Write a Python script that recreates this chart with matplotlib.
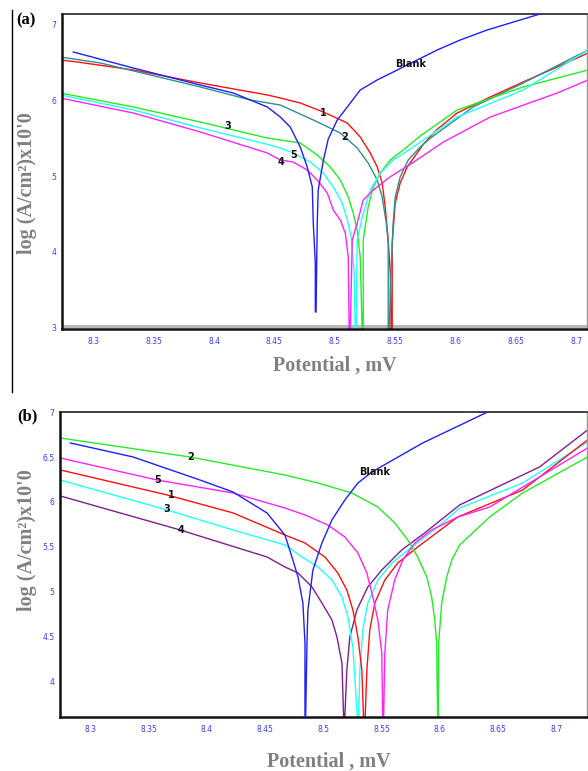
import matplotlib.pyplot as plt
from matplotlib.lines import Line2D

# ---- panel (a) ----
a_blank_x = [8.2834, 8.3331, 8.3886, 8.4159, 8.4441, 8.4549, 8.4631, 8.4714, 8.4772, 8.4814, 8.4822, 8.4839, 8.4839,
             8.4845, 8.4855, 8.4863, 8.4905, 8.4946, 8.5021, 8.5104, 8.5211, 8.5352, 8.5518, 8.5683, 8.5849,
             8.6039, 8.6263, 8.6536, 8.6702]
a_blank_y = [6.642, 6.430, 6.205, 6.099, 5.914, 5.781, 5.649, 5.384, 5.119, 4.854, 4.377, 3.848, 3.199,
             3.20, 4.377, 4.815, 5.20, 5.49, 5.742, 5.914, 6.139, 6.272, 6.404, 6.536, 6.669,
             6.801, 6.934, 7.066, 7.146]

a_1_x = [8.2727, 8.2867, 8.3331, 8.3886, 8.4441, 8.4549, 8.4714, 8.4905, 8.5104, 8.5211, 8.5294, 8.5352, 8.5393,
         8.5418, 8.5443, 8.5460, 8.5468,
         8.5476, 8.5476, 8.5501, 8.5542, 8.5600, 8.5683, 8.5733, 8.5850, 8.6014, 8.6288, 8.6561, 8.6843, 8.7099]
a_1_y = [6.536, 6.510, 6.404, 6.232, 6.073, 6.033, 5.967, 5.848, 5.702, 5.517, 5.305, 5.119, 4.907,
         4.589, 4.152, 3.715, 2.9,
         2.9, 4.113, 4.642, 4.907, 5.119, 5.305, 5.42, 5.62, 5.834, 6.046, 6.245, 6.444, 6.629]

a_2_x = [8.2727, 8.3058, 8.3472, 8.3886, 8.4300, 8.4549, 8.4822, 8.5046, 8.5186, 8.5277, 8.5352, 8.5393, 8.5427,
         8.5443, 8.5443,
         8.5452, 8.5460, 8.5484, 8.5501, 8.5542, 8.5609, 8.5708, 8.5791, 8.6147, 8.6561, 8.7099]
a_2_y = [6.576, 6.497, 6.338, 6.179, 6.007, 5.940, 5.742, 5.570, 5.371, 5.172, 4.947, 4.722, 4.377,
         4.113, 2.9,
         2.9, 3.490, 4.377, 4.722, 4.987, 5.212, 5.384, 5.50, 5.914, 6.232, 6.669]

a_3_x = [8.2727, 8.3331, 8.3886, 8.4441, 8.4549, 8.4714, 8.4855, 8.4963, 8.5046, 8.5112, 8.5153, 8.5186, 8.5211,
         8.5228,
         8.5236, 8.5236, 8.5277, 8.5319, 8.5377, 8.5460, 8.5567, 8.5708, 8.6014, 8.6561, 8.7099]
a_3_y = [6.099, 5.914, 5.715, 5.503, 5.477, 5.437, 5.278, 5.119, 4.947, 4.722, 4.510, 4.285, 3.927,
         2.9,
         2.9, 4.152, 4.589, 4.854, 5.040, 5.212, 5.344, 5.53, 5.874, 6.179, 6.404]

a_4_x = [8.2727, 8.3331, 8.3886, 8.4441, 8.4549, 8.4656, 8.4772, 8.4855, 8.4938, 8.4988, 8.5046, 8.5087, 8.5112,
         8.5120,
         8.5128, 8.5145, 8.5186, 8.5236, 8.5319, 8.5460, 8.5650, 8.5900, 8.6288, 8.6843, 8.7099]
a_4_y = [6.033, 5.834, 5.583, 5.305, 5.212, 5.185, 5.079, 4.947, 4.775, 4.550, 4.417, 4.245, 3.927,
         2.9,
         2.9, 4.152, 4.377, 4.682, 4.815, 4.99, 5.18, 5.45, 5.781, 6.099, 6.272]

a_5_x = [8.2727, 8.3331, 8.3886, 8.4441, 8.4549, 8.4656, 8.4797, 8.4905, 8.4988, 8.5062, 8.5104, 8.5137, 8.5161,
         8.5170,
         8.5178, 8.5186, 8.5228, 8.5294, 8.5377, 8.5484, 8.5650, 8.6014, 8.6561, 8.7099]
a_5_y = [6.073, 5.874, 5.636, 5.42, 5.371, 5.305, 5.185, 5.040, 4.854, 4.642, 4.417, 4.192, 3.715,
         2.9,
         2.9, 4.152, 4.457, 4.815, 5.040, 5.212, 5.384, 5.781, 6.139, 6.669]

# ---- panel (b) ----
b_blank_x = [8.2829, 8.3368, 8.3942, 8.4225, 8.4516, 8.4670, 8.4730, 8.4782, 8.4824, 8.4842, 8.4842,
             8.4846, 8.4859, 8.4867, 8.4910, 8.4987, 8.5073, 8.5184, 8.5296, 8.5415, 8.5852, 8.6426]
b_blank_y = [6.656, 6.500, 6.244, 6.111, 5.878, 5.633, 5.389, 5.167, 4.878, 4.433, 3.5,
             3.5, 4.433, 4.800, 5.244, 5.544, 5.800, 6.022, 6.211, 6.333, 6.656, 7.011]

b_1_x = [8.2743, 8.3660, 8.4225, 8.4670, 8.4842, 8.5013, 8.5124, 8.5201, 8.5253, 8.5296, 8.5330, 8.5347,
         8.5355, 8.5373, 8.5398, 8.5441, 8.5527, 8.5638, 8.5809, 8.6152, 8.6709, 8.7266]
b_1_y = [6.356, 6.078, 5.878, 5.633, 5.544, 5.389, 5.211, 5.022, 4.800, 4.500, 4.133, 3.5,
         3.5, 4.133, 4.578, 4.878, 5.133, 5.322, 5.500, 5.833, 6.133, 6.689]

b_2_x = [8.2743, 8.3857, 8.4670, 8.4953, 8.5244, 8.5467, 8.5612, 8.5724, 8.5809, 8.5887, 8.5929, 8.5955, 8.5972,
         8.5981,
         8.5985, 8.5989, 8.6015, 8.6058, 8.6101, 8.6169, 8.6426, 8.6709, 8.7266]
b_2_y = [6.711, 6.500, 6.300, 6.211, 6.100, 5.944, 5.767, 5.578, 5.389, 5.167, 4.944, 4.689, 4.433,
         3.5,
         3.5, 4.433, 4.878, 5.167, 5.356, 5.522, 5.833, 6.100, 6.500]

b_3_x = [8.2743, 8.3660, 8.4225, 8.4670, 8.4816, 8.4953, 8.5073, 8.5159, 8.5210, 8.5253, 8.5296,
         8.5300, 8.5313, 8.5338, 8.5381, 8.5467, 8.5587, 8.5758, 8.5981, 8.6169, 8.6709, 8.7266]
b_3_y = [6.244, 5.911, 5.689, 5.522, 5.389, 5.278, 5.133, 4.944, 4.722, 4.389, 3.5,
         3.5, 4.133, 4.578, 4.878, 5.133, 5.322, 5.500, 5.722, 5.933, 6.211, 6.667]

b_4_x = [8.2743, 8.3771, 8.4516, 8.4670, 8.4782, 8.4902, 8.4987, 8.5073, 8.5116, 8.5159, 8.5176,
         8.5180, 8.5201, 8.5227, 8.5287, 8.5381, 8.5501, 8.5672, 8.5869, 8.6169, 8.6854, 8.7266]
b_4_y = [6.067, 5.689, 5.389, 5.278, 5.211, 5.056, 4.878, 4.689, 4.500, 4.211, 3.5,
         3.5, 4.133, 4.500, 4.800, 5.056, 5.244, 5.467, 5.656, 5.967, 6.389, 6.800]

b_5_x = [8.2743, 8.3574, 8.4225, 8.4670, 8.4842, 8.5039, 8.5184, 8.5296, 8.5373, 8.5424, 8.5467, 8.5501, 8.5510,
         8.5515, 8.5527, 8.5552, 8.5612, 8.5681, 8.5784, 8.5929, 8.6152, 8.6426, 8.6854, 8.7266]
b_5_y = [6.489, 6.244, 6.100, 5.933, 5.856, 5.744, 5.611, 5.433, 5.211, 4.944, 4.689, 4.322, 3.5,
         3.5, 4.322, 4.800, 5.133, 5.356, 5.544, 5.689, 5.833, 5.944, 6.278, 6.600]

x_ticks = [8.3, 8.35, 8.4, 8.45, 8.5, 8.55, 8.6, 8.65, 8.7]
x_tick_labels = ['8.3', '8.35', '8.4', '8.45', '8.5', '8.55', '8.6', '8.65', '8.7']
a_y_ticks = [3, 4, 5, 6, 7]
b_y_ticks = [4, 4.5, 5, 5.5, 6, 6.5, 7]

# curve tags: (text, x, y)
a_tags = [('Blank', 8.5625, 6.483), ('1', 8.4905, 5.834), ('2', 8.5079, 5.517),
          ('3', 8.4110, 5.662), ('5', 8.4656, 5.278), ('4', 8.4557, 5.185)]
b_tags = [('Blank', 8.5441, 6.333), ('2', 8.3857, 6.500), ('5', 8.3582, 6.244),
          ('1', 8.3694, 6.078), ('3', 8.3660, 5.922), ('4', 8.3780, 5.689)]

BLUE = '#1f1fff'
RED = '#ff1010'
TEAL = '#2f8f8f'
GREEN = '#22ee22'
CYAN = '#22ffff'
MAGENTA = '#ff22ff'
PURPLE = '#7f1f8f'
TICK_BLUE = '#3a3aff'
LABEL_GRAY = '#808080'


def style_axes(ax, yticks, ylabels):
    ax.set_xticks(x_ticks)
    ax.set_xticklabels(x_tick_labels)
    ax.set_yticks(yticks)
    ax.set_yticklabels(ylabels)
    ax.tick_params(axis='both', length=0, labelsize=5.5, labelcolor=TICK_BLUE)
    ax.tick_params(axis='x', pad=6)
    ax.tick_params(axis='y', pad=4)
    for side in ['left', 'bottom']:
        ax.spines[side].set_linewidth(1.8)
        ax.spines[side].set_color('#111111')
    ax.spines['top'].set_linewidth(1.2)
    ax.spines['top'].set_color('#222222')
    ax.spines['right'].set_linewidth(1.0)
    ax.spines['right'].set_color('#999999')


def add_tags(ax, tags):
    for text, x, y in tags:
        ax.text(x, y, text, fontsize=7, fontweight='bold', color='#111111',
                ha='center', va='center', family='DejaVu Sans', zorder=5)


def main():
    fig = plt.figure(figsize=(5.88, 7.71), dpi=100)
    lw = 1.0

    # panel (a)
    ax_a = fig.add_axes([0.1054, 0.5733, 0.8929, 0.4086])
    ax_a.set_xlim(8.274, 8.709)
    ax_a.set_ylim(2.974, 7.146)
    ax_a.axhspan(2.985, 3.03, color='#b8b8b8', lw=0, zorder=1)
    ax_a.plot(a_1_x, a_1_y, color=RED, lw=lw, zorder=2)
    ax_a.plot(a_2_x, a_2_y, color=TEAL, lw=lw, zorder=2)
    ax_a.plot(a_3_x, a_3_y, color=GREEN, lw=lw, zorder=2)
    ax_a.plot(a_5_x, a_5_y, color=CYAN, lw=lw, zorder=2)
    ax_a.plot(a_4_x, a_4_y, color=MAGENTA, lw=lw, zorder=2)
    ax_a.plot(a_blank_x, a_blank_y, color=BLUE, lw=lw, zorder=3)
    style_axes(ax_a, a_y_ticks, [str(v) for v in a_y_ticks])
    add_tags(ax_a, a_tags)

    # panel (b)
    ax_b = fig.add_axes([0.102, 0.070, 0.896, 0.3956])
    ax_b.set_xlim(8.274, 8.726)
    ax_b.set_ylim(3.61, 7.0)
    ax_b.plot(b_4_x, b_4_y, color=PURPLE, lw=lw, zorder=2)
    ax_b.plot(b_3_x, b_3_y, color=CYAN, lw=lw, zorder=2)
    ax_b.plot(b_1_x, b_1_y, color=RED, lw=lw, zorder=2)
    ax_b.plot(b_5_x, b_5_y, color=MAGENTA, lw=lw, zorder=2)
    ax_b.plot(b_2_x, b_2_y, color=GREEN, lw=lw, zorder=2)
    ax_b.plot(b_blank_x, b_blank_y, color=BLUE, lw=lw, zorder=3)
    style_axes(ax_b, b_y_ticks, ['4', '4.5', '5', '5.5', '6', '6.5', '7'])
    add_tags(ax_b, b_tags)

    # axis titles and panel letters
    serif = dict(family='Liberation Serif', fontweight='bold')
    ylab = "log (A/cm\u00b2)x10'0"
    fig.text(0.046, 1 - 183 / 771, ylab, rotation=90, ha='center', va='center',
             fontsize=14.5, color=LABEL_GRAY, **serif)
    fig.text(0.046, 1 - 540 / 771, ylab, rotation=90, ha='center', va='center',
             fontsize=14.5, color=LABEL_GRAY, **serif)
    fig.text(335 / 588, 1 - 366 / 771, 'Potential , mV', ha='center', va='center',
             fontsize=14.5, color=LABEL_GRAY, **serif)
    fig.text(329 / 588, 1 - 762 / 771, 'Potential , mV', ha='center', va='center',
             fontsize=14.5, color=LABEL_GRAY, **serif)
    fig.text(16 / 588, 1 - 20 / 771, '(a)', ha='left', va='center',
             fontsize=12, color='black', **serif)
    fig.text(17 / 588, 1 - 416 / 771, '(b)', ha='left', va='center',
             fontsize=12, color='black', **serif)

    # frame line along the left of panel (a)
    fig.add_artist(Line2D([12 / 588, 12 / 588], [1 - 10 / 771, 1 - 392 / 771],
                          color='black', lw=1.0))

    fig.savefig('out.png', dpi=100)


if __name__ == '__main__':
    main()
